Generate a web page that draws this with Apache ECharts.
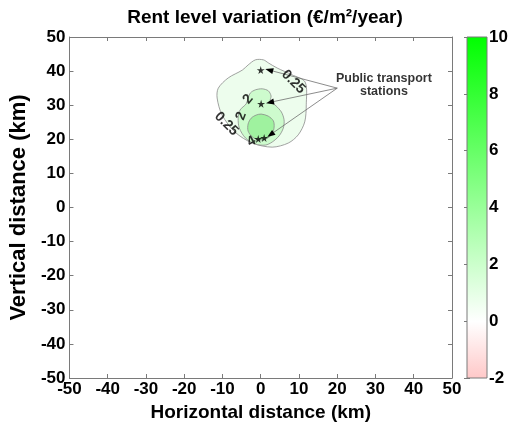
<!DOCTYPE html>
<html>
<head>
<meta charset="utf-8">
<script src="https://cdn.jsdelivr.net/npm/echarts@6/dist/echarts.min.js"></script>
<style>
html,body{margin:0;padding:0;background:#fff;}
#chart{width:516px;height:427px;}
</style>
</head>
<body>
<div id="chart"></div>
<script>
// ---- data ----
const titleText = 'Rent level variation (€/m²/year)';
const xName = 'Horizontal distance (km)';
const yName = 'Vertical distance (km)';
const axisMin = -50, axisMax = 50, axisStep = 10;

// contour polygons (km)
const contourLevel025 = [[-3.3,41.8],[-1.4,43.3],[0.7,43.3],[2.0,42.4],[4.3,40.9],[8.2,38.9],[11.6,36.8],[11.9,30.1],[11.5,25.1],[9.8,21.3],[7.2,18.9],[3.0,17.7],[-2.2,18.9],[-6.7,22.1],[-10.1,27.1],[-11.4,32.1],[-11.1,35.0],[-8.5,38.0],[-4.8,40.3]];
const contourLevel2 = [[-3.3,32.1],[-2.7,33.6],[-1.4,34.5],[0.4,34.8],[2.0,34.2],[2.7,32.7],[2.5,31.2],[4.0,29.8],[5.4,28.0],[6.1,25.7],[5.9,23.3],[4.8,21.0],[3.0,19.2],[1.2,18.3],[-1.4,18.6],[-4.0,20.4],[-5.6,23.3],[-5.9,26.2],[-5.4,28.6],[-3.8,30.4]];
const contourLevel4 = [[0.1,27.4],[1.96,26.8],[3.3,25.4],[3.5,23.6],[3.0,21.6],[1.4,20.1],[-0.4,19.8],[-2.2,20.7],[-3.3,22.4],[-3.3,24.5],[-2.5,26.2],[-1.2,27.1]];
const contourValues = [0.25, 2, 4];

// stations (km)
const stations = [[0,40.3],[0.1,30.4],[-0.65,20.1],[0.9,20.4]];
// annotation
const annotationText = 'Public transport\nstations';
const annotationAt = [32.2, 36.0];
const arrowFrom = [20.0, 35.0];
const arrowTo = [[1.2,40.6],[1.4,30.6],[1.7,20.7]];

// contour labels: [text, x, y]
const contourLabels = [['0.25',8.5,36.8],['0.25',-9.0,24.5],['2',-3.3,31.8],['2',-5.1,26.8],['4',-2.4,19.4]];
const contourLabelRotate = [-45,-45,50,70,30];

// colorbar
const colorbarTicks = [-2,0,2,4,6,8,10];
const colorbarColors = ['#ffc8c8','#ffffff','#ccffcc','#99ff99','#66ff66','#33ff33','#00ff00'];

// ---- chart ----
const FONT = '"Liberation Sans", Arial, Helvetica, sans-serif';
const polygons = [contourLevel025, contourLevel2, contourLevel4];
const fills = ['#edfded','#cdfbcd','#9ff29f'];
const cbMin = colorbarTicks[0], cbMax = colorbarTicks[colorbarTicks.length-1];

const chart = echarts.init(document.getElementById('chart'), null, {renderer:'canvas'});

const axisLineStyle = {color:'#7a7a7a', width:1};
const mainTickLabel = {color:'#000', fontSize:17, fontWeight:'bold', fontFamily:FONT};

const option = {
  backgroundColor:'#fff',
  animation:false,
  title:{
    text:titleText, left:260, top:3, textAlign:'center',
    textStyle:{fontSize:19, fontWeight:'bold', color:'#000', fontFamily:FONT}
  },
  grid:[
    {left:69, top:37, width:383, height:341},
    {left:467, top:37, width:20, height:341}
  ],
  xAxis:[
    {gridIndex:0, type:'value', min:axisMin, max:axisMax, interval:axisStep, position:'bottom',
     name:xName, nameLocation:'middle', nameGap:21,
     nameTextStyle:{fontSize:19, fontWeight:'bold', color:'#000', fontFamily:FONT},
     axisLine:{show:true, onZero:false, lineStyle:axisLineStyle},
     axisTick:{show:true, inside:true, length:4, lineStyle:axisLineStyle},
     axisLabel:Object.assign({margin:3}, mainTickLabel), splitLine:{show:false}},
    {gridIndex:0, type:'value', min:axisMin, max:axisMax, interval:axisStep, position:'top',
     axisLine:{show:true, onZero:false, lineStyle:axisLineStyle},
     axisTick:{show:true, inside:true, length:4, lineStyle:axisLineStyle},
     axisLabel:{show:false}, splitLine:{show:false}},
    {gridIndex:1, type:'value', min:0, max:1, show:false}
  ],
  yAxis:[
    {gridIndex:0, type:'value', min:axisMin, max:axisMax, interval:axisStep, position:'left',
     name:yName, nameLocation:'middle', nameGap:36,
     nameTextStyle:{fontSize:22, fontWeight:'bold', color:'#000', fontFamily:FONT},
     axisLine:{show:true, onZero:false, lineStyle:axisLineStyle},
     axisTick:{show:true, inside:true, length:4, lineStyle:axisLineStyle},
     axisLabel:Object.assign({margin:4}, mainTickLabel), splitLine:{show:false}},
    {gridIndex:0, type:'value', min:axisMin, max:axisMax, interval:axisStep, position:'right',
     axisLine:{show:true, onZero:false, lineStyle:axisLineStyle},
     axisTick:{show:true, inside:true, length:4, lineStyle:axisLineStyle},
     axisLabel:{show:false}, splitLine:{show:false}},
    {gridIndex:1, type:'value', min:cbMin, max:cbMax, interval:2, position:'right',
     axisLine:{show:false},
     axisTick:{show:true, inside:true, length:3, lineStyle:axisLineStyle},
     axisLabel:Object.assign({margin:2}, mainTickLabel), splitLine:{show:false}},
    {gridIndex:1, type:'value', min:cbMin, max:cbMax, interval:2, position:'left',
     axisLine:{show:false},
     axisTick:{show:true, inside:true, length:3, lineStyle:axisLineStyle},
     axisLabel:{show:false}, splitLine:{show:false}}
  ],
  series:[
    {
      type:'custom', xAxisIndex:0, yAxisIndex:0, z:2,
      data:polygons.map((p,i)=>[p[0][0], p[0][1], contourValues[i]]),
      encode:{x:0, y:1},
      renderItem:function(params, api){
        const pts = polygons[params.dataIndex].map(p=>api.coord(p));
        return {type:'polygon', shape:{points:pts, smooth:0.3},
          style:{fill:fills[params.dataIndex], stroke:'#8a8a8a', lineWidth:0.8}};
      },
      silent:true
    },
    {
      type:'custom', xAxisIndex:0, yAxisIndex:0, z:4,
      data:arrowTo.map(t=>[arrowFrom[0], arrowFrom[1], t[0], t[1]]),
      encode:{x:[0,2], y:[1,3]},
      renderItem:function(params, api){
        const a = api.coord([api.value(0), api.value(1)]);
        const b = api.coord([api.value(2), api.value(3)]);
        const dx = b[0]-a[0], dy = b[1]-a[1];
        const L = Math.sqrt(dx*dx+dy*dy);
        const ux = dx/L, uy = dy/L;
        const hl = 8, hw = 3;
        const base = [b[0]-ux*hl, b[1]-uy*hl];
        return {type:'group', children:[
          {type:'line', shape:{x1:a[0], y1:a[1], x2:base[0], y2:base[1]},
           style:{stroke:'#6e6e6e', lineWidth:0.8}},
          {type:'polygon', shape:{points:[b,[base[0]-uy*hw, base[1]+ux*hw],[base[0]+uy*hw, base[1]-ux*hw]]},
           style:{fill:'#000'}}
        ]};
      },
      silent:true
    },
    {
      type:'scatter', xAxisIndex:0, yAxisIndex:0, z:5,
      symbol:'path://M50,0 L61,35 L98,35 L68,57 L79,91 L50,70 L21,91 L32,57 L2,35 L39,35 Z',
      symbolSize:8, itemStyle:{color:'#000'},
      data:stations, silent:true
    },
    {
      type:'scatter', xAxisIndex:0, yAxisIndex:0, z:6, symbolSize:0,
      data:contourLabels.map((c,i)=>({value:[c[1],c[2]],
        label:{show:true, position:'inside', formatter:c[0], rotate:contourLabelRotate[i],
          fontSize:14, fontWeight:'bold', color:'#000', fontFamily:FONT}})),
      silent:true
    },
    {
      type:'scatter', xAxisIndex:0, yAxisIndex:0, z:6, symbolSize:0,
      data:[{value:annotationAt, label:{show:true, position:'inside', formatter:annotationText,
        fontSize:12.5, fontWeight:'bold', color:'#000', fontFamily:FONT, lineHeight:13, align:'center'}}],
      silent:true
    },
    {
      type:'custom', xAxisIndex:2, yAxisIndex:2, z:2,
      data:[[0, cbMin, 1, cbMax]],
      encode:{x:[0,2], y:[1,3]},
      renderItem:function(params, api){
        const p0 = api.coord([api.value(0), api.value(1)]);
        const p1 = api.coord([api.value(2), api.value(3)]);
        const stops = colorbarTicks.map((v,i)=>({offset:(v-cbMin)/(cbMax-cbMin), color:colorbarColors[i]}));
        return {type:'rect', shape:{x:p0[0], y:p1[1], width:p1[0]-p0[0], height:p0[1]-p1[1]},
          style:{fill:new echarts.graphic.LinearGradient(0,1,0,0,stops), stroke:'#7a7a7a', lineWidth:1}};
      },
      silent:true
    }
  ]
};
chart.setOption(option);
</script>
</body>
</html>
